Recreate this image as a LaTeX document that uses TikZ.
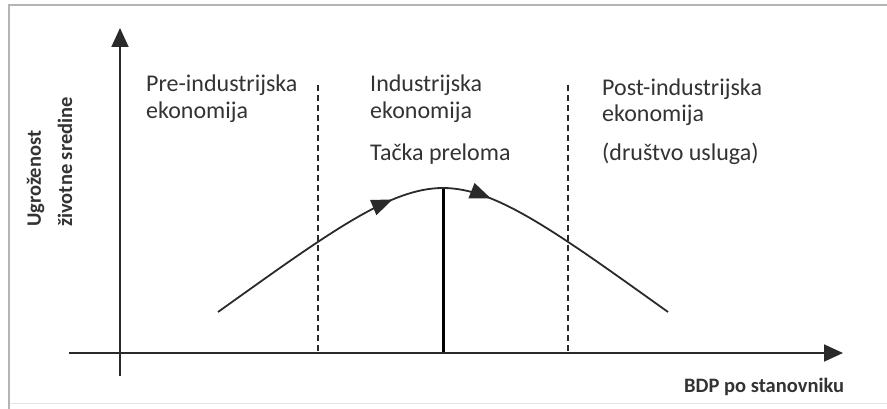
\documentclass[tikz,border=0pt]{standalone}
\usepackage{fontspec}
\setmainfont{Carlito}
\usetikzlibrary{arrows.meta,decorations.markings}
\definecolor{txt}{HTML}{333333}
\definecolor{ln}{HTML}{2A2A2A}
\definecolor{frm}{HTML}{B4B4B4}
\begin{document}
\begin{tikzpicture}[x=1pt,y=-1pt,
  lbl/.style={inner sep=0pt,anchor=base west,text=txt,font=\fontsize{24}{27}\selectfont},
  axlbl/.style={inner sep=0pt,text=txt,font=\fontsize{20.5}{24}\selectfont\bfseries},
  axis/.style={draw=ln,line width=1.8pt,-{Triangle[length=19pt,width=17pt]}},
  divider/.style={draw=ln,line width=1.9pt,dash pattern=on 6pt off 4pt},
  breakline/.style={draw=black,line width=3pt},
  curve/.style={draw=ln,line width=1.8pt},
  frameline/.style={draw=frm,line width=2.2pt}]
\useasboundingbox (0,0) rectangle (887,409);
% frame
\draw[frameline] (9,409) -- (9,5) -- (887,5);
\draw[draw=black!10,line width=1pt] (10,403) -- (887,403);
% coordinates
\coordinate (ybot) at (120,376);
\coordinate (ytop) at (120,28);
\coordinate (xleft) at (69,353);
\coordinate (xright) at (843,353);
\coordinate (d1t) at (318,85);
\coordinate (d1b) at (318,353);
\coordinate (d2t) at (568,85);
\coordinate (d2b) at (568,353);
\coordinate (peak) at (443,188);
\coordinate (pbase) at (443,353);
\coordinate (cl) at (218,312);
\coordinate (cr) at (668,312);
% dashed dividers
\draw[divider] (d1t) -- (d1b);
\draw[divider] (d2t) -- (d2b);
% break line
\draw[breakline] (pbase) -- (peak);
% curve
\draw[curve,postaction={decorate},decoration={markings,mark=at position 0.80 with {\arrow{Triangle[length=21pt,width=16pt]}}}]
  (cl) .. controls (330,232) and (390,188) .. (peak);
\draw[curve,postaction={decorate},decoration={markings,mark=at position 0.19 with {\arrow{Triangle[length=21pt,width=16pt]}}}]
  (peak) .. controls (496,188) and (556,232) .. (cr);
% axes
\draw[axis] (ybot) -- (ytop);
\draw[axis] (xleft) -- (xright);
% axis labels
\node[axlbl,rotate=90,anchor=base west] (yl1) at (41,227) {Ugroženost};
\node[axlbl,rotate=90,anchor=base west] (yl2) at (72,227) {životne sredine};
\node[axlbl,anchor=base west] (xl) at (684,392) {BDP po stanovniku};
% zone labels
\node[lbl] (pre1) at (146,92) {Pre-industrijska};
\node[lbl] (pre2) at (146,119) {ekonomija};
\node[lbl] (ind1) at (370,92) {Industrijska};
\node[lbl] (ind2) at (370,119) {ekonomija};
\node[lbl] (tp) at (370,161) {Tačka preloma};
\node[lbl] (post1) at (602,96) {Post-industrijska};
\node[lbl] (post2) at (602,122) {ekonomija};
\node[lbl] (post3) at (602,161) {(društvo usluga)};
\end{tikzpicture}
\end{document}
